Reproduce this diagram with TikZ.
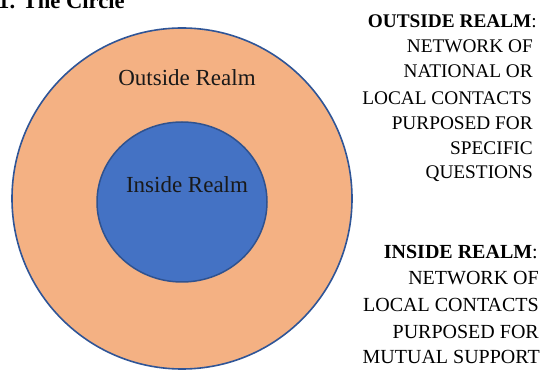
\documentclass[tikz,border=0pt]{standalone}
\usepackage{fontspec}
\setmainfont{Liberation Serif}
\definecolor{orangefill}{HTML}{F4B183}
\definecolor{bluefill}{HTML}{4472C4}
\definecolor{outerline}{HTML}{2F5597}
\definecolor{innerline}{HTML}{2F528F}
\tikzset{
  realmlabel/.style={font=\fontsize{23}{27}\selectfont, text=black!90, inner sep=0pt},
  sidetext/.style={font=\fontsize{19.3}{25.3}\selectfont, anchor=east, inner sep=0pt, align=right},
  sidetextb/.style={font=\fontsize{20}{26.3}\selectfont, anchor=east, inner sep=0pt, align=right},
}
\begin{document}
\begin{tikzpicture}[x=1pt,y=-1pt]
\useasboundingbox (0,0) rectangle (541,371);
\clip (0,0) rectangle (541,371);
\node[anchor=base west, font=\bfseries\fontsize{22.6}{26}\selectfont, inner sep=0pt] (title) at (-2,9) {1. The Circle};
\draw[outerline, line width=1.6pt, fill=orangefill] (182,198.5) ellipse [x radius=170, y radius=170.5];
\draw[innerline, line width=1.5pt, fill=bluefill] (182,202) ellipse [x radius=85, y radius=80];
\node[realmlabel] (outside) at (187,78) {Outside Realm};
\node[realmlabel] (inside) at (187,185) {Inside Realm};
\node[sidetext] (o1) at (537,21.7) {\textbf{OUTSIDE REALM}:};
\node[sidetext] (o2) at (533,46.7) {NETWORK OF};
\node[sidetext] (o3) at (533,71.7) {NATIONAL OR};
\node[sidetext] (o4) at (532,98.3) {LOCAL CONTACTS};
\node[sidetext] (o5) at (533,123.3) {PURPOSED FOR};
\node[sidetext] (o6) at (533,148.3) {SPECIFIC};
\node[sidetext] (o7) at (533,173.3) {QUESTIONS};
\node[sidetextb] (i1) at (538,251.7) {\textbf{INSIDE REALM}:};
\node[sidetextb] (i2) at (539,278.3) {NETWORK OF};
\node[sidetextb] (i3) at (539,305) {LOCAL CONTACTS};
\node[sidetextb] (i4) at (539,331.7) {PURPOSED FOR};
\node[sidetextb] (i5) at (540,356.7) {MUTUAL SUPPORT};
\end{tikzpicture}
\end{document}
